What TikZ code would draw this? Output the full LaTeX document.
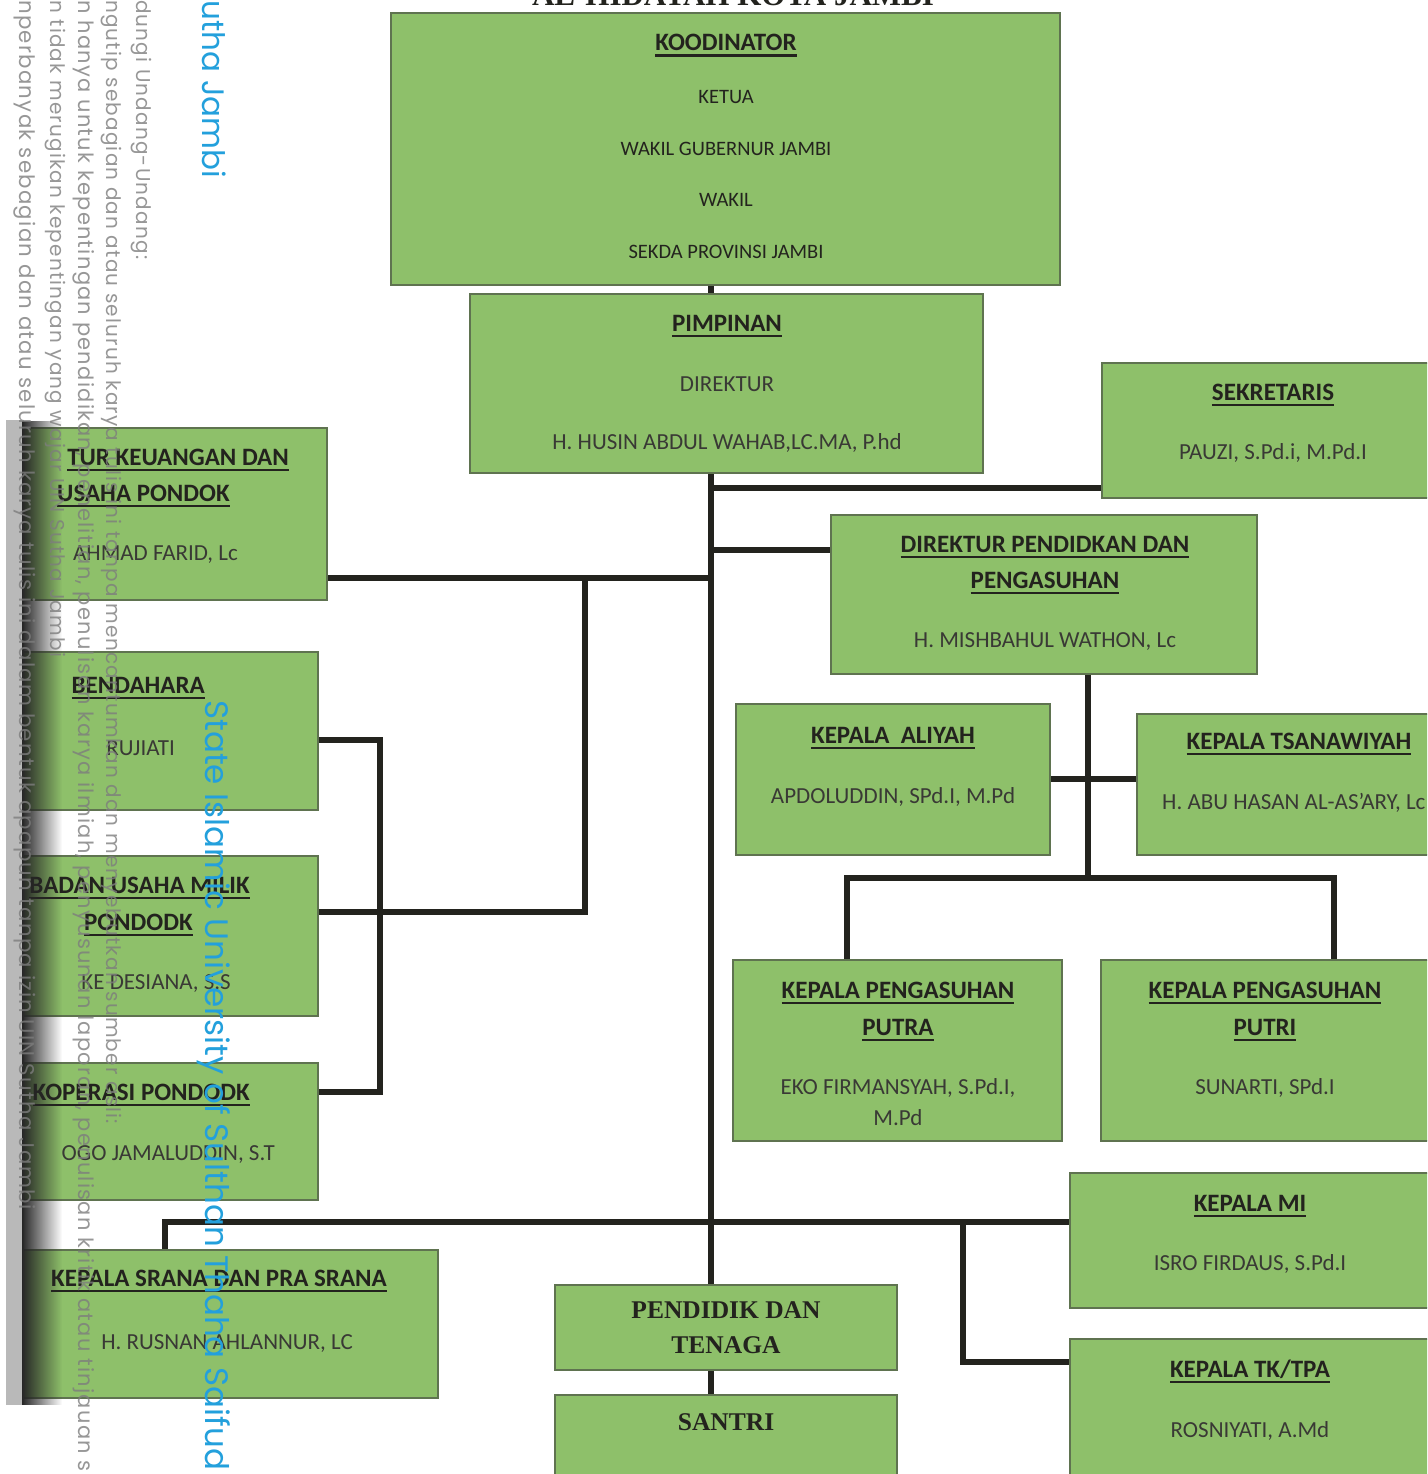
\documentclass[tikz,border=0pt]{standalone}
\usepackage{fontspec}
\setmainfont{Carlito}
\newfontfamily\tnrfont{Liberation Serif}
\newfontfamily\wmfont[LetterSpace=6]{Poppins}
\newfontfamily\wmbfont{Poppins}
\usetikzlibrary{fit,fadings}
\tikzfading[name=fadeR, left color=transparent!0, right color=transparent!100]
\definecolor{boxgreen}{RGB}{142,192,106}
\definecolor{boxedge}{RGB}{95,115,80}
\definecolor{ink}{RGB}{35,35,30}
\definecolor{wmblue}{RGB}{35,160,220}
\definecolor{wmgray}{RGB}{125,125,125}
\newcommand\ulin[1]{\setbox0=\hbox{#1}\rlap{\copy0}\vrule height -3.5pt depth 6pt width \wd0\relax}
\tikzset{
  box/.style={draw=boxedge, line width=2pt, fill=boxgreen, inner sep=0pt},
  conn/.style={draw=ink, line width=5.5pt, line join=miter},
  hd/.style={font=\fontsize{25}{28}\selectfont\bfseries, text=ink, inner sep=0pt, anchor=base},
  sub/.style={font=\fontsize{20.5}{24}\selectfont, text=ink, inner sep=0pt, anchor=base},
  nm/.style={font=\fontsize{23}{26}\selectfont, text=ink!90, inner sep=0pt, anchor=base},
  sf/.style={font=\fontsize{25.5}{28}\selectfont\tnrfont\bfseries, text=ink, inner sep=0pt, anchor=base},
  wmg/.style={font=\fontsize{20}{20}\selectfont\wmfont, text=wmgray, opacity=0.8, rotate=-90, anchor=west, inner sep=0pt},
  wmb/.style={font=\fontsize{32.5}{33}\selectfont\wmbfont, text=wmblue, rotate=-90, anchor=west, inner sep=0pt}
}
\begin{document}
\begin{tikzpicture}[x=1pt,y=-1pt]
\useasboundingbox (0,0) rectangle (1427,1474);
\clip (0,0) rectangle (1427,1474);
\fill[white] (0,0) rectangle (1427,1474);

% title (cut at top, as in the scan)
\node[font=\fontsize{31}{31}\selectfont\tnrfont\bfseries, text=ink, inner sep=0pt, anchor=base] (title) at (733,6) {AL-HIDAYAH KOTA JAMBI};

% boxes
\node[box, fit={(391,13) (1060,285)}] (koord) {};
\node[box, fit={(470,294) (983,473)}] (pim) {};
\node[box, fit={(1102,363) (1445,498)}] (sek) {};
\node[box, fit={(831,515) (1257,674)}] (dirp) {};
\node[box, fit={(736,704) (1050,855)}] (ali) {};
\node[box, fit={(1137,714) (1445,855)}] (tsa) {};
\node[box, fit={(733,960) (1062,1141)}] (putra) {};
\node[box, fit={(1101,960) (1445,1141)}] (putri) {};
\node[box, fit={(1070,1173) (1445,1308)}] (mi) {};
\node[box, fit={(1070,1339) (1445,1490)}] (tk) {};
\node[box, fit={(555,1285) (897,1370)}] (pend) {};
\node[box, fit={(555,1395) (897,1490)}] (santri) {};
\node[box, fit={(10,1250) (438,1398)}] (srana) {};
\node[box, fit={(10,428) (327,600)}] (keu) {};
\node[box, fit={(10,652) (318,810)}] (bend) {};
\node[box, fit={(10,856) (318,1016)}] (bum) {};
\node[box, fit={(10,1063) (318,1200)}] (kop) {};

% connectors
\coordinate (cM) at (711,0);
\draw[conn] (koord.south -| cM) -- (pim.north -| cM);
\draw[conn] (pim.south -| cM) -- (pend.north -| cM);
\coordinate (jS) at (711,488);
\draw[conn] (jS) -- (jS -| sek.west);
\coordinate (jD) at (711,550);
\draw[conn] (jD) -- (jD -| dirp.west);
\coordinate (jK) at (711,578);
\draw[conn] (jK) -- (jK -| keu.east);
\coordinate (jB1) at (585,578);
\coordinate (jB2) at (585,912);
\draw[conn] (jB1) -- (jB2) -- (jB2 -| bum.east);
\coordinate (jR1) at (380,740);
\coordinate (jR2) at (380,1092);
\draw[conn] (jR1 -| bend.east) -- (jR1) -- (jR2) -- (jR2 -| kop.east);
\coordinate (jP) at (1088,878);
\draw[conn] (dirp.south -| jP) -- (jP);
\coordinate (jA) at (1088,779);
\draw[conn] (jA -| ali.east) -- (jA -| tsa.west);
\coordinate (jL) at (847,878);
\coordinate (jRr) at (1334,878);
\draw[conn] (putra.north -| jL) -- (jL) -- (jRr) -- (putri.north -| jRr);
\coordinate (jW) at (165,1222);
\coordinate (jE) at (963,1222);
\coordinate (jT) at (963,1362);
\draw[conn] (srana.north -| jW) -- (jW) -- (jW -| mi.west);
\draw[conn] (jE) -- (jT) -- (jT -| tk.west);
\draw[conn] (pend.south -| cM) -- (santri.north -| cM);

% texts
\node[hd] (t1) at (726,51) {\ulin{KOODINATOR}};
\node[sub] (t2) at (726,104) {KETUA};
\node[sub] (t3) at (726,156) {WAKIL GUBERNUR JAMBI};
\node[sub] (t4) at (726,207) {WAKIL};
\node[sub] (t5) at (726,258) {SEKDA PROVINSI JAMBI};
\node[hd] (t6) at (727,331) {\ulin{PIMPINAN}};
\node[nm] (t7) at (727,391) {DIREKTUR};
\node[nm] (t8) at (727,449) {H. HUSIN ABDUL WAHAB,LC.MA, P.hd};
\node[hd] (t9) at (1273,400) {\ulin{SEKRETARIS}};
\node[nm] (t10) at (1273,459) {PAUZI, S.Pd.i, M.Pd.I};
\node[hd] (t11) at (1045,552) {\ulin{DIREKTUR PENDIDKAN DAN}};
\node[hd] (t12) at (1045,588) {\ulin{PENGASUHAN}};
\node[nm] (t13) at (1045,647) {H. MISHBAHUL WATHON, Lc};
\node[hd] (t14) at (893,743) {\ulin{KEPALA\ \ ALIYAH}};
\node[nm] (t15) at (893,803) {APDOLUDDIN, SPd.I, M.Pd};
\node[hd] (t16) at (1299,749) {\ulin{KEPALA TSANAWIYAH}};
\node[nm, anchor=base west] (t17) at (1162,809) {H. ABU HASAN AL-AS’ARY, Lc};
\node[hd] (t18) at (898,998) {\ulin{KEPALA PENGASUHAN}};
\node[hd] (t19) at (898,1035) {\ulin{PUTRA}};
\node[nm] (t20) at (898,1094) {EKO FIRMANSYAH, S.Pd.I,};
\node[nm] (t21) at (898,1125) {M.Pd};
\node[hd] (t22) at (1265,998) {\ulin{KEPALA PENGASUHAN}};
\node[hd] (t23) at (1265,1035) {\ulin{PUTRI}};
\node[nm] (t24) at (1265,1094) {SUNARTI, SPd.I};
\node[hd] (t25) at (1250,1211) {\ulin{KEPALA MI}};
\node[nm] (t26) at (1250,1270) {ISRO FIRDAUS, S.Pd.I};
\node[hd] (t27) at (1250,1377) {\ulin{KEPALA TK/TPA}};
\node[nm] (t28) at (1250,1437) {ROSNIYATI, A.Md};
\node[sf] (t29) at (726,1318) {PENDIDIK DAN};
\node[sf] (t30) at (726,1353) {TENAGA};
\node[sf] (t31) at (726,1430) {SANTRI};
\node[hd, anchor=base east] (t32) at (289,465) {\ulin{TUR KEUANGAN DAN}};
\node[hd, anchor=base east] (t33) at (230,501) {\ulin{USAHA PONDOK}};
\node[nm, anchor=base east] (t34) at (238,560) {AHMAD FARID, Lc};
\node[hd, anchor=base east] (t35) at (205,693) {\ulin{BENDAHARA}};
\node[nm, anchor=base east] (t36) at (175,755) {RUJIATI};
\node[hd, anchor=base east] (t37) at (250,893) {\ulin{BADAN USAHA MILIK}};
\node[hd, anchor=base east] (t38) at (193,930) {\ulin{PONDODK}};
\node[nm, anchor=base east] (t39) at (231,989) {KE DESIANA, S.S};
\node[hd, anchor=base east] (t40) at (250,1100) {\ulin{KOPERASI PONDODK}};
\node[nm, anchor=base east] (t41) at (275,1160) {OGO JAMALUDDIN, S.T};
\node[hd, anchor=base east] (t42) at (387,1286) {\ulin{KEPALA SRANA DAN PRA SRANA}};
\node[nm, anchor=base east] (t43) at (353,1349) {H. RUSNAN AHLANNUR, LC};

% spine shadow of the scan
\fill[gray!55] (6,420) rectangle (24,1405);
\fill[black!85, path fading=fadeR] (22,420) rectangle (62,1405);

% watermark
\node[wmg] (w1) at (141,0) {dungi Undang-Undang:};
\node[wmg] (w2) at (111,0) {ngutip sebagian dan atau seluruh karya tulis ini tanpa mencantumkan dan menyebutkan sumber asli:};
\node[wmg, font=\fontsize{21}{21}\selectfont\wmfont] (w3) at (84,0) {n hanya untuk kepentingan pendidikan, penelitian, penulisan karya ilmiah, penyusunan laporan, penulisan kritik atau tinjauan s};
\node[wmg] (w4) at (55,0) {n tidak merugikan kepentingan yang wajar UIN Sutha Jambi};
\node[wmg, font=\fontsize{21.3}{21}\selectfont\wmfont] (w5) at (25,0) {nperbanyak sebagian dan atau seluruh karya tulis ini dalam bentuk apapun tanpa izin UIN Sutha Jambi};
\node[wmb, font=\fontsize{31}{31}\selectfont\wmbfont] (b1) at (214,0) {utha Jambi};
\node[wmb] (b2) at (214,700) {State Islamic University of Sulthan Thaha Saifud};
\end{tikzpicture}
\end{document}
